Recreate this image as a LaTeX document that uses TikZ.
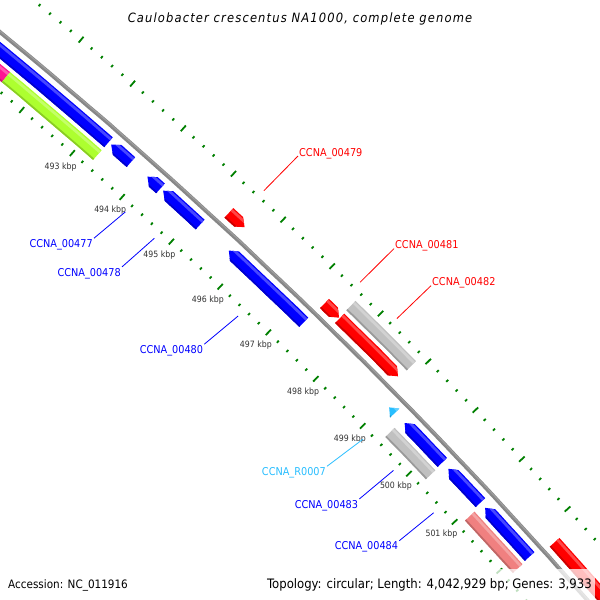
\documentclass[tikz,border=0pt]{standalone}
\usepackage{fontspec}
\setmainfont{DejaVu Sans Condensed}
\newfontfamily\titlefont[LetterSpace=9]{DejaVu Sans Condensed}
\definecolor{cgblue}{RGB}{0,0,255}
\definecolor{cgred}{RGB}{255,0,0}
\definecolor{cggray}{RGB}{192,192,192}
\definecolor{cgpink}{RGB}{240,128,128}
\definecolor{cglime}{RGB}{173,255,47}
\definecolor{cgmagenta}{RGB}{255,20,147}
\definecolor{cgcyan}{RGB}{40,190,255}
\definecolor{cgtick}{RGB}{0,128,0}
\definecolor{cgbackbone}{RGB}{135,135,135}
\definecolor{cgtext}{RGB}{50,50,50}
\tikzset{
  tickmark/.style={cgtick, line width=1.8pt},
  kbplabel/.style={font=\fontsize{8.7}{10}\selectfont, text=cgtext, inner sep=0pt},
  glabel/.style={font=\fontsize{10.8}{12}\selectfont, inner sep=1pt},
  link/.style={line width=0.8pt},
  footer/.style={font=\fontsize{13}{15}\selectfont, fill=white, fill opacity=0.75,
    text opacity=1, inner xsep=3pt, inner ysep=9.5pt}
}
% annular band: start angle, end angle, inner radius, outer radius, colour
\newcommand{\cgband}[5]{%
  \fill[#5] plot[domain=#1:#2,samples=7] (\x:#3) -- plot[domain=#2:#1,samples=7] (\x:#4) -- cycle;}
% feature: shape (0 box, 1 forward, 2 reverse, 3 head only), start, end, lane radius, colour
\newcommand{\cgfeature}[5]{%
  \pgfmathsetmacro{\fin}{#4-6.5}\pgfmathsetmacro{\fout}{#4+6.5}%
  \pgfmathsetmacro{\fha}{#2+0.09}\pgfmathsetmacro{\fhb}{#3-0.09}%
  \pgfmathsetmacro{\fsa}{#2-0.2}\pgfmathsetmacro{\fsb}{#3+0.2}%
  \pgfmathsetmacro{\flo}{#4-7.5}\pgfmathsetmacro{\fhi}{#4+7.5}%
  \pgfmathsetmacro{\fsh}{#4-4.8}\pgfmathsetmacro{\fla}{#4+2.5}\pgfmathsetmacro{\flb}{#4+5.2}%
  \begin{scope}
    \ifcase#1
      \clip plot[domain=#2:#3,samples=7] (\x:\fout) -- plot[domain=#3:#2,samples=7] (\x:\fin) -- cycle;
    \or
      \clip (#3:#4) -- plot[domain=\fhb:#2,samples=7] (\x:\fout) -- plot[domain=#2:\fhb,samples=7] (\x:\fin) -- cycle;
    \or
      \clip (#2:#4) -- plot[domain=\fha:#3,samples=7] (\x:\fout) -- plot[domain=#3:\fha,samples=7] (\x:\fin) -- cycle;
    \or
      \clip (#2:#4) -- (#3:\fout) -- (#3:\fin) -- cycle;
    \fi
    \cgband{\fsa}{\fsb}{\flo}{\fhi}{#5}
    \cgband{\fsa}{\fsb}{\fla}{\flb}{#5!72!white}
    \cgband{\fsa}{\fsb}{\flo}{\fsh}{#5!80!black}
  \end{scope}}
\begin{document}
\begin{tikzpicture}[x=1pt,y=-1pt]
  \useasboundingbox (0,0) rectangle (600,600);
  \clip (0,0) rectangle (600,600);
  \fill[white] (0,0) rectangle (600,600);
  \begin{scope}[shift={(-3208.5,3936.6)}]
    % ruler rings
    \foreach \i in {0,...,66}{
      \pgfmathsetmacro{\a}{-50.59+0.152*\i}
      \pgfmathsetmacro{\tl}{ifthenelse(mod(\i,5)==0,3.8,1.4)}
      \pgfmathsetmacro{\oa}{5100-\tl}\pgfmathsetmacro{\ob}{5100+\tl}
      \pgfmathsetmacro{\ia}{5008-\tl}\pgfmathsetmacro{\ib}{5008+\tl}
      \draw[tickmark] (\a:\oa) -- (\a:\ob);
      \draw[tickmark] (\a:\ia) -- (\a:\ib);
    }
    \foreach \k in {493,...,501}{
      \pgfmathsetmacro{\a}{-49.07+0.76*(\k-493)}
      \node[kbplabel] (kbp\k) at (\a:4990) {\k\ kbp};
    }
    % backbone
    \draw[cgbackbone, line width=4pt] plot[domain=-52:-40,samples=80] (\x:5054);
    \draw[cgbackbone!80!white, line width=1pt] plot[domain=-52:-40,samples=80] (\x:5054.8);
    % features
    \cgfeature{0}{-52}{-50.21}{5023}{cgmagenta}
    \cgfeature{0}{-50.21}{-48.84}{5023}{cglime}
    \cgfeature{0}{-52}{-48.84}{5040}{cgblue}
    \cgfeature{2}{-48.80}{-48.50}{5040}{cgblue}
    \cgfeature{2}{-48.25}{-48.05}{5040}{cgblue}
    \cgfeature{2}{-48.01}{-47.44}{5040}{cgblue}
    \cgfeature{2}{-47.00}{-45.82}{5040}{cgblue}
    \cgfeature{1}{-47.29}{-47.05}{5068}{cgred}
    \cgfeature{1}{-45.80}{-45.57}{5068}{cgred}
    \cgfeature{1}{-45.56}{-44.63}{5068}{cgred}
    \cgfeature{0}{-45.57}{-44.61}{5085}{cggray}
    \cgfeature{3}{-44.45}{-44.36}{5040}{cgcyan}
    \cgfeature{2}{-44.20}{-43.58}{5040}{cgblue}
    \cgfeature{0}{-44.24}{-43.57}{5023}{cggray}
    \cgfeature{2}{-43.48}{-42.95}{5040}{cgblue}
    \cgfeature{2}{-42.87}{-42.12}{5040}{cgblue}
    \cgfeature{0}{-42.92}{-42.11}{5023}{cgpink}
    \cgfeature{1}{-42.05}{-39.5}{5068}{cgred}
    % label line ends
    \coordinate (e479) at (-47.17:5108);
    \coordinate (e481) at (-45.68:5108);
    \coordinate (e482) at (-45.10:5108);
    \coordinate (e477) at (-48.17:4999);
    \coordinate (e478) at (-47.72:4999);
    \coordinate (e480) at (-46.41:4999);
    \coordinate (eR07) at (-44.40:4999);
    \coordinate (e483) at (-43.90:4999);
    \coordinate (e484) at (-43.23:4999);
  \end{scope}
  % gene labels
  \node[glabel, text=cgred, anchor=base west] (l479) at (298,156) {CCNA\_00479};
  \node[glabel, text=cgred, anchor=base west] (l481) at (394,248.6) {CCNA\_00481};
  \node[glabel, text=cgred, anchor=base west] (l482) at (431,285.7) {CCNA\_00482};
  \node[glabel, text=cgblue, anchor=north east] (l477) at (94,238.2) {CCNA\_00477};
  \node[glabel, text=cgblue, anchor=north east] (l478) at (122,266.9) {CCNA\_00478};
  \node[glabel, text=cgblue, anchor=north east] (l480) at (204.3,344.2) {CCNA\_00480};
  \node[glabel, text=cgcyan, anchor=north east] (lR07) at (327,466.3) {CCNA\_R0007};
  \node[glabel, text=cgblue, anchor=north east] (l483) at (359.3,499) {CCNA\_00483};
  \node[glabel, text=cgblue, anchor=north east] (l484) at (399.3,540.7) {CCNA\_00484};
  \draw[cgred, link] (e479) -- (l479.base west);
  \draw[cgred, link] (e481) -- (l481.base west);
  \draw[cgred, link] (e482) -- (l482.base west);
  \draw[cgblue, link] (l477.north east) -- (e477);
  \draw[cgblue, link] (l478.north east) -- (e478);
  \draw[cgblue, link] (l480.north east) -- (e480);
  \draw[cgcyan, link] (lR07.north east) -- (eR07);
  \draw[cgblue, link] (l483.north east) -- (e483);
  \draw[cgblue, link] (l484.north east) -- (e484);
  % title and footer
  \node[font=\titlefont\itshape\fontsize{12.8}{15}\selectfont, anchor=base] (title) at (300,22.7)
    {Caulobacter crescentus NA1000, complete genome};
  \node[footer, font=\fontsize{11.6}{15}\selectfont, anchor=base west] (accession) at (5,588)
    {Accession: NC\_011916};
  \node[footer, anchor=base east] (summary) at (595,588)
    {Topology: circular; Length: 4,042,929 bp; Genes: 3,933};
\end{tikzpicture}
\end{document}
